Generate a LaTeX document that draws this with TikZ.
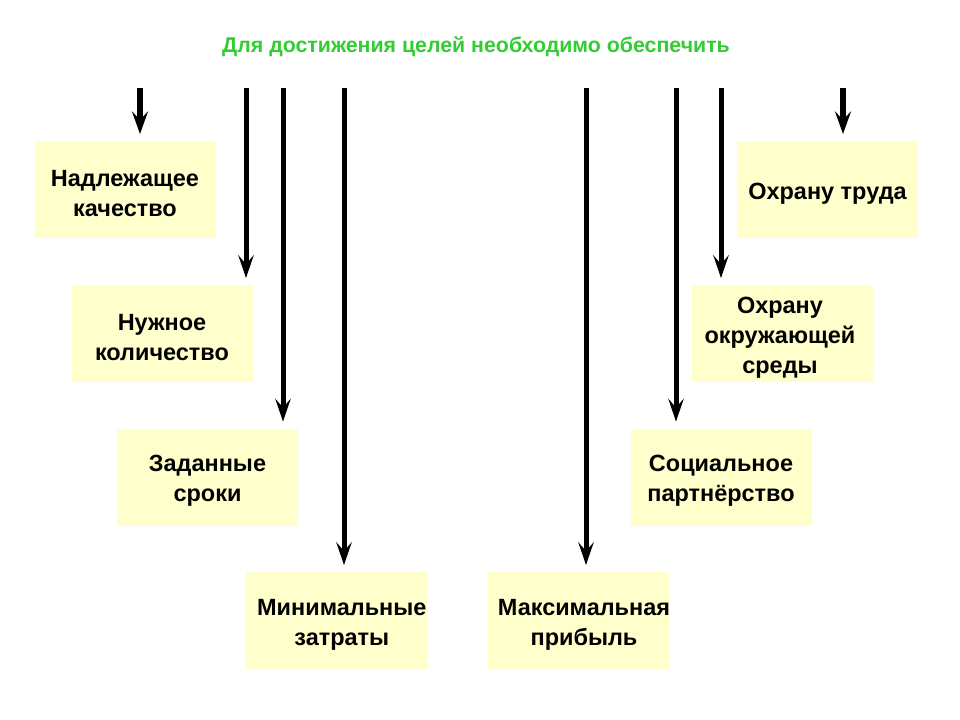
\documentclass[tikz,border=0pt]{standalone}
\usepackage{fontspec}
\setmainfont{Liberation Sans}
\usetikzlibrary{arrows.meta}
\definecolor{boxfill}{HTML}{FFFFCC}
\definecolor{titlegreen}{HTML}{33CC33}
\begin{document}
\begin{tikzpicture}[x=0.75pt,y=-0.75pt,
  goal/.style={fill=boxfill,draw=none,minimum width=135.75pt,minimum height=72.75pt,inner sep=0pt},
  goaltext/.style={align=center,inner sep=0pt,font=\fontsize{17.6pt}{22.5pt}\selectfont\bfseries,yshift=-3pt},
  longarrow/.style={line width=3.75pt,-{Stealth[length=17pt,width=11.5pt,inset=6.5pt]},shorten >=5pt},
  shortarrow/.style={line width=5pt,-{Stealth[length=17pt,width=12pt,inset=6.5pt]},shorten >=5pt}]
\useasboundingbox (0,0) rectangle (960,720);
\node[font=\fontsize{16pt}{19pt}\selectfont\bfseries,text=titlegreen] (title) at (476,47) {Для достижения целей необходимо обеспечить};
\node[goal] (b1) at (125,189.5) {};
\node[goal] (b2) at (162,333.5) {};
\node[goal] (b3) at (207.5,477) {};
\node[goal] (b4) at (336.5,620.5) {};
\node[goal] (b5) at (578,620.5) {};
\node[goal] (b6) at (721,477) {};
\node[goal] (b7) at (782,333.5) {};
\node[goal] (b8) at (827.5,189.5) {};
\node[goaltext] (l1) at (b1) {Надлежащее\\качество};
\node[goaltext] (l2) at (b2) {Нужное\\количество};
\node[goaltext] (l3) at (b3) {Заданные\\сроки};
\node[goaltext,xshift=4pt] (l4) at (b4) {Минимальные\\затраты};
\node[goaltext,xshift=4.5pt] (l5) at (b5) {Максимальная\\прибыль};
\node[goaltext] (l6) at (b6) {Социальное\\партнёрство};
\node[goaltext,xshift=-1.5pt] (l7) at (b7) {Охрану\\окружающей\\среды};
\node[goaltext] (l8) at (b8) {Охрану труда};
\coordinate (t1) at (140,88);
\coordinate (t2) at (246,88);
\coordinate (t3) at (283,88);
\coordinate (t4) at (344,88);
\coordinate (t5) at (586,88);
\coordinate (t6) at (676,88);
\coordinate (t7) at (721,88);
\coordinate (t8) at (843,88);
\draw[shortarrow] (t1) -- (t1 |- b1.north);
\draw[longarrow] (t2) -- (t2 |- b2.north);
\draw[longarrow] (t3) -- (t3 |- b3.north);
\draw[longarrow] (t4) -- (t4 |- b4.north);
\draw[longarrow] (t5) -- (t5 |- b5.north);
\draw[longarrow] (t6) -- (t6 |- b6.north);
\draw[longarrow] (t7) -- (t7 |- b7.north);
\draw[shortarrow] (t8) -- (t8 |- b8.north);
\end{tikzpicture}
\end{document}
